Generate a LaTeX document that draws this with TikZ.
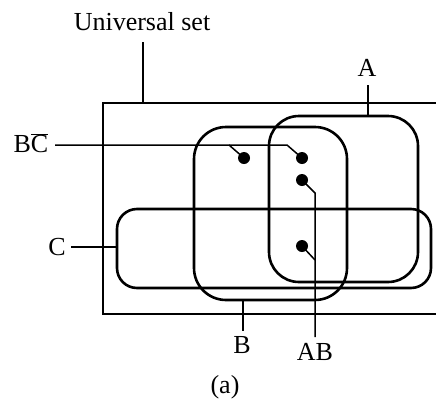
\documentclass[tikz,border=0pt]{standalone}
\usepackage{fontspec}
\setmainfont{Liberation Serif}
\begin{document}
\begin{tikzpicture}[x=1pt,y=-1pt,
  font=\fontsize{26}{30}\selectfont,
  setbox/.style={draw, line width=2.6pt, inner sep=0pt},
  dotn/.style={circle, fill, inner sep=0pt, minimum size=12pt},
  lead/.style={line width=1.5pt},
  univline/.style={line width=1.5pt},
  lbl/.style={inner sep=0pt}]
\useasboundingbox (0,0) rectangle (436,399);
% universal set (open at right edge)
\coordinate (ul) at (103,103);
\coordinate (ur) at (436,103);
\coordinate (bl) at (103,314);
\coordinate (br) at (436,314);
\draw[univline] (ur) -- (ul) -- (bl) -- (br);
% sets
\node[setbox, rounded corners=30pt, minimum width=149pt, minimum height=166pt] (A) at (343.5,199) {};
\node[setbox, rounded corners=32pt, minimum width=153pt, minimum height=173pt] (B) at (270.5,213.5) {};
\node[setbox, rounded corners=20pt, minimum width=314pt, minimum height=79pt] (C) at (274,248.5) {};
% dots
\node[dotn] (d1) at (244,158) {};
\node[dotn] (d2) at (302,158) {};
\node[dotn] (d3) at (302,180) {};
\node[dotn] (d4) at (302,246) {};
% labels
\node[lbl] (univ) at (142,22) {Universal set};
\node[lbl] (la) at (367,68) {A};
\node[lbl] (lbc) at (31,143) {B$\overline{\hbox{C}}$};
\node[lbl] (lc) at (57,247) {C};
\node[lbl] (lb) at (242,345) {B};
\node[lbl] (lab) at (315,352) {AB};
\node[lbl] (cap) at (225,387) {(a)};
% leader coordinates
\coordinate (u1) at (143,42);
\coordinate (u2) at (143,103);
\coordinate (a1) at (368,85);
\coordinate (a2) at (368,116);
\coordinate (c1) at (71,247);
\coordinate (c2) at (117,247);
\coordinate (b1) at (243,300);
\coordinate (b2) at (243,331);
\coordinate (bc1) at (55,145);
\coordinate (k0) at (229,145);
\coordinate (k1) at (287,145);
\coordinate (m1) at (315,193);
\coordinate (m2) at (315,260);
\coordinate (m3) at (315,337);
% leaders
\draw[lead] (u1) -- (u2);
\draw[lead] (a1) -- (a2);
\draw[lead] (c1) -- (c2);
\draw[lead] (b1) -- (b2);
\draw[lead] (bc1) -- (k1) -- (d2.center);
\draw[lead] (k0) -- (d1.center);
\draw[lead] (d3.center) -- (m1) -- (m3);
\draw[lead] (d4.center) -- (m2);
\end{tikzpicture}
\end{document}
